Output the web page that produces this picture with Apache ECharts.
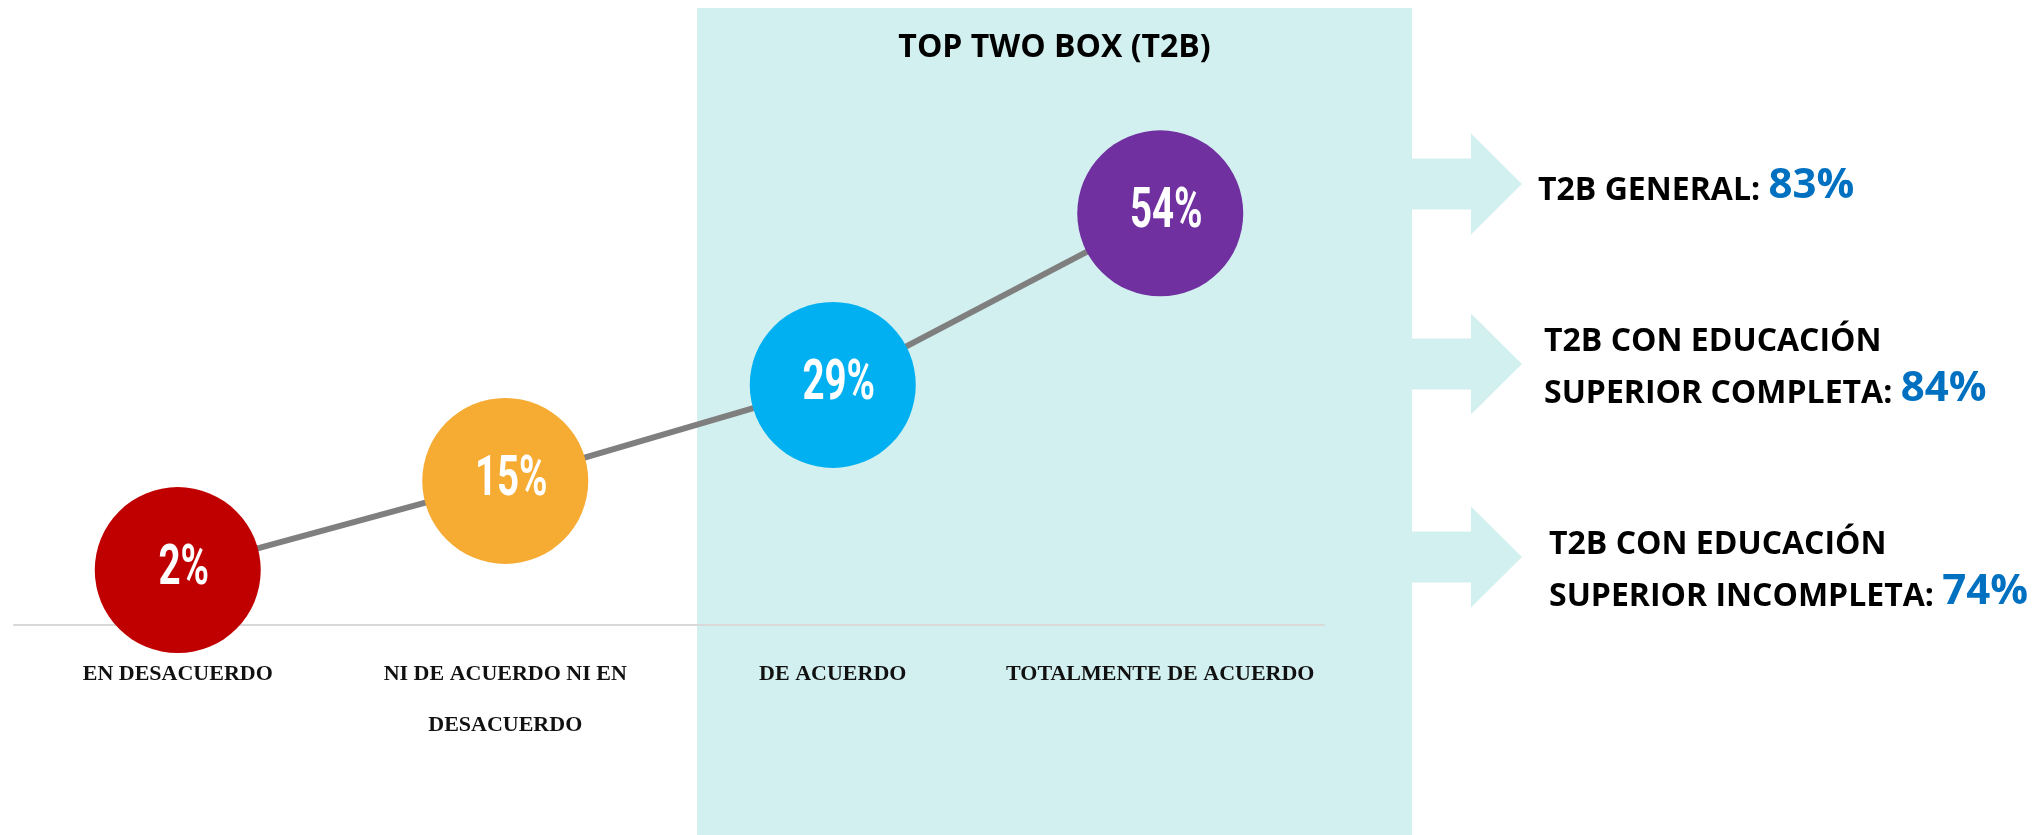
<!DOCTYPE html>
<html>
<head>
<meta charset="utf-8">
<script src="https://cdn.jsdelivr.net/npm/echarts@6/dist/echarts.min.js"></script>
<style>
html,body{margin:0;padding:0;background:#fff;}
#chart{width:2043px;height:835px;}
</style>
</head>
<body>
<div id="chart"></div>
<script>
// ---- data ----
const categories = ['EN DESACUERDO', 'NI DE ACUERDO NI EN\nDESACUERDO', 'DE ACUERDO', 'TOTALMENTE DE ACUERDO'];
const values = [2, 15, 29, 54];
const boxTitle = 'TOP TWO BOX (T2B)';
const summaryLabels = [['T2B GENERAL: '], ['T2B CON EDUCACIÓN', 'SUPERIOR COMPLETA: '], ['T2B CON EDUCACIÓN', 'SUPERIOR INCOMPLETA: ']];
const summaryValues = [83, 84, 74];

// ---- styles ----
const pointColors = ['#c00000', '#f6ab33', '#00b0f0', '#7030a0'];
const boxColor = '#d3f0f0';
const sans = '"Open Sans", "Liberation Sans", sans-serif';

const chart = echarts.init(document.getElementById('chart'), null, {renderer: 'canvas'});

// right-side arrows & texts
const arrowCenters = [184, 364, 557];
const textBlocks = [
  {x: 1538, y: 181},
  {x: 1544, y: 358},
  {x: 1549, y: 561}
];
function arrowPoints(c) {
  return [[1412, c - 25.5], [1471, c - 25.5], [1471, c - 50.5], [1522, c], [1471, c + 50.5], [1471, c + 25.5], [1412, c + 25.5]];
}
const graphics = [
  {type: 'rect', z: -10, shape: {x: 697, y: 8, width: 715, height: 835}, style: {fill: boxColor}, silent: true},
  {type: 'text', z: 5, x: 1054.5, y: 48, style: {text: boxTitle, font: 'bold 32px ' + sans, fill: '#000', align: 'center', verticalAlign: 'middle'}}
];
arrowCenters.forEach(c => graphics.push({type: 'polygon', z: -10, shape: {points: arrowPoints(c)}, style: {fill: boxColor}, silent: true}));
summaryLabels.forEach((lines, i) => {
  const parts = lines.map((l, j) => j === lines.length - 1 ? '{a|' + l + '}{b|' + summaryValues[i] + '%}' : '{a|' + l + '}');
  graphics.push({
    type: 'text', z: 5, x: textBlocks[i].x, y: textBlocks[i].y,
    style: {
      text: parts.join('\n'), align: 'left', verticalAlign: 'middle',
      rich: {
        a: {font: 'bold 32px ' + sans, fill: '#000', lineHeight: 52, verticalAlign: 'bottom'},
        b: {font: 'bold 42px ' + sans, fill: '#0070c0', lineHeight: 52, verticalAlign: 'bottom'}
      }
    }
  });
});

const option = {
  animation: false,
  backgroundColor: '#ffffff',
  grid: {left: 14, right: 2043 - 1324, top: 35, bottom: 210, containLabel: false},
  xAxis: {
    type: 'category',
    data: categories,
    boundaryGap: true,
    axisLine: {show: true, onZero: false, lineStyle: {color: '#d9d9d9', width: 2}},
    axisTick: {show: false},
    splitLine: {show: false},
    axisLabel: {
      interval: 0, margin: 24, color: '#111',
      fontFamily: '"Liberation Serif", "DejaVu Serif", serif', fontWeight: 'bold', fontSize: 22,
      lineHeight: 51
    },
    z: 1
  },
  yAxis: {type: 'value', min: -6, max: 80, show: false, splitLine: {show: false}},
  graphic: graphics,
  series: [
    {
      type: 'line',
      z: 3,
      silent: true,
      data: values.map((v, i) => ({value: v, itemStyle: {color: pointColors[i], borderWidth: 0}})),
      symbol: 'circle',
      symbolSize: 166,
      showAllSymbol: true,
      lineStyle: {color: '#7f7f7f', width: 6},
      label: {show: false}
    },
    {
      type: 'custom',
      z: 4,
      silent: true,
      data: values.map((v, i) => [i, v]),
      renderItem: function (params, api) {
        const p = api.coord([api.value(0), api.value(1)]);
        return {
          type: 'text',
          x: p[0] + 6,
          y: p[1],
          scaleX: 0.7,
          style: {
            text: api.value(1) + '%',
            fill: '#ffffff',
            font: 'bold 55px Roboto, "DejaVu Sans", sans-serif',
            align: 'center',
            verticalAlign: 'middle'
          }
        };
      }
    }
  ]
};
chart.setOption(option);
</script>
</body>
</html>
